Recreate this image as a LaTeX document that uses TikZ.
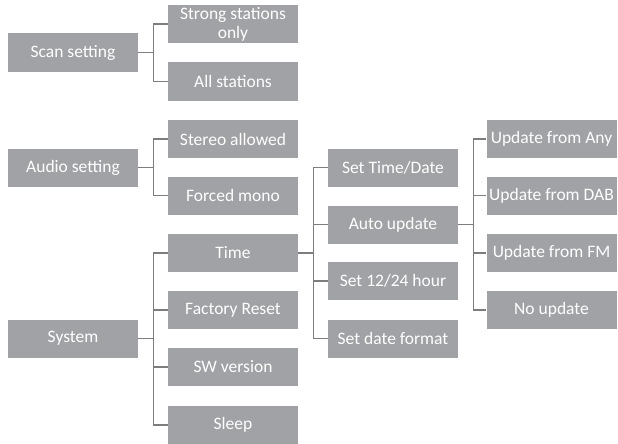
\documentclass[tikz,border=0pt]{standalone}
\usepackage{fontspec}
\setmainfont{Carlito}
\usepackage{tikz}

\definecolor{boxgray}{RGB}{160,162,165}
\definecolor{linegray}{RGB}{125,125,125}

\begin{document}
\begin{tikzpicture}[x=1pt,y=-1pt,
    mbox/.style={fill=boxgray,text=white,minimum width=130pt,minimum height=38pt,inner sep=1pt,align=center,font=\fontsize{17.5}{19}\selectfont},
    cline/.style={draw=linegray,line width=1.2pt}]
    \useasboundingbox (0,0) rectangle (618,444);
    % first column
    \node[mbox] (scan) at (73,52.5) {Scan setting};
    \node[mbox] (audio) at (73,167.5) {Audio setting};
    \node[mbox] (sys) at (73,338.5) {System};
    % second column
    \node[mbox] (strong) at (233,24) {Strong stations\\only};
    \node[mbox] (all) at (233,81.5) {All stations};
    \node[mbox] (stereo) at (233,139) {Stereo allowed};
    \node[mbox] (mono) at (233,195.5) {Forced mono};
    \node[mbox] (time) at (233,253) {Time};
    \node[mbox] (reset) at (233,310) {Factory Reset};
    \node[mbox] (swver) at (233,367) {SW version};
    \node[mbox] (sleep) at (233,425) {Sleep};
    % third column
    \node[mbox] (setdt) at (393,167.5) {Set Time/Date};
    \node[mbox] (auto) at (393,224.5) {Auto update};
    \node[mbox] (hour) at (393,281) {Set 12/24 hour};
    \node[mbox] (datefmt) at (393,338.5) {Set date format};
    % fourth column
    \node[mbox] (any) at (551.5,139) {Update from Any};
    \node[mbox] (dab) at (551.5,195.5) {Update from DAB};
    \node[mbox] (fm) at (551.5,253) {Update from FM};
    \node[mbox] (noupd) at (551.5,310) {No update};

    \foreach \c in {strong,all}
        \draw[cline] (scan.east) -- ++(15,0) |- (\c.west);
    \foreach \c in {stereo,mono}
        \draw[cline] (audio.east) -- ++(15,0) |- (\c.west);
    \foreach \c in {time,reset,swver,sleep}
        \draw[cline] (sys.east) -- ++(15,0) |- (\c.west);
    \foreach \c in {setdt,auto,hour,datefmt}
        \draw[cline] (time.east) -- ++(15,0) |- (\c.west);
    \foreach \c in {any,dab,fm,noupd}
        \draw[cline] (auto.east) -- ++(15,0) |- (\c.west);
\end{tikzpicture}
\end{document}
